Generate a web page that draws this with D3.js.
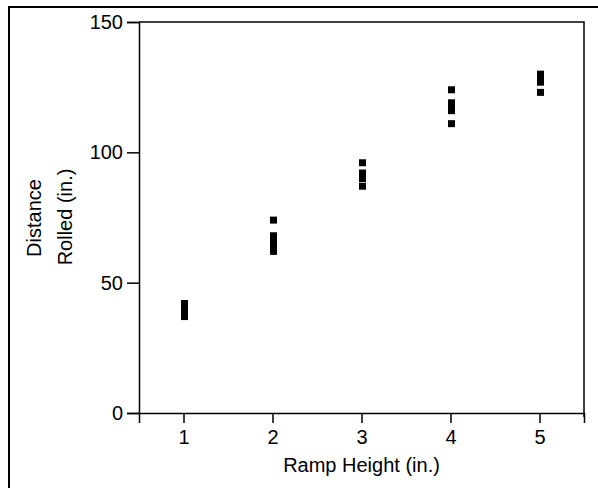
<!DOCTYPE html>
<html>
<head>
<meta charset="utf-8">
<script src="https://cdn.jsdelivr.net/npm/d3@7"></script>
<style>
  body { margin: 0; background: #fff; }
  text { font-family: "Liberation Sans", Arial, sans-serif; }
</style>
</head>
<body>
<script>
// ramp height (in.) and distance rolled (in.)
var heights = [1, 2, 3, 4, 5];
var trial1 = [37, 62, 87, 111, 123];
var trial2 = [38, 63, 90, 116, 127];
var trial3 = [39, 65, 92, 117, 128];
var trial4 = [41, 66, 96, 119, 130];
var trial5 = [42, 68, 90, 124, 127];
var trial6 = [40, 74, 92, 117, 129];

var xTicks = [1, 2, 3, 4, 5];
var yTicks = [0, 50, 100, 150];

var width = 598, height = 488;
var margin = { left: 139, right: 14, top: 22, bottom: 75 };

var svg = d3.select("body").append("svg")
    .attr("width", width)
    .attr("height", height);

// outer frame
svg.append("rect")
    .attr("x", 9).attr("y", 7)
    .attr("width", 700).attr("height", 600)
    .attr("fill", "none")
    .attr("stroke", "#000")
    .attr("stroke-width", 2);

var x = d3.scaleLinear().domain([0.5, 5.5]).range([margin.left, width - margin.right]);
var y = d3.scaleLinear().domain([0, 150]).range([height - margin.bottom, margin.top]);

// box top / right
svg.append("path")
    .attr("d", "M" + x(0.5) + "," + y(150) + "H" + x(5.5) + "V" + (y(0) + 4))
    .attr("fill", "none")
    .attr("stroke", "#000")
    .attr("stroke-width", 1.5);

// x axis
var gx = svg.append("g").attr("transform", "translate(0," + y(0) + ")");
gx.call(d3.axisBottom(x).tickValues(d3.range(1.5, 5.5, 1)).tickSize(4).tickFormat(""));
gx.call(d3.axisBottom(x).tickValues(xTicks).tickSize(10).tickPadding(7).tickFormat(d3.format("d")));

// y axis
var gy = svg.append("g").attr("transform", "translate(" + x(0.5) + ",0)");
gy.call(d3.axisLeft(y).tickValues(d3.range(10, 150, 10).filter(function (v) { return v % 50; })).tickSize(6).tickFormat(""));
gy.call(d3.axisLeft(y).tickValues(yTicks).tickSize(12).tickPadding(4).tickFormat(d3.format("d")));

svg.selectAll(".domain").attr("stroke-width", 1.5);
svg.selectAll(".tick line").attr("stroke-width", 1.5);
svg.selectAll(".tick text").attr("font-size", 20).attr("fill", "#000")
    .attr("font-family", "'Liberation Sans', Arial, sans-serif");

// labels
svg.append("text")
    .attr("x", (x(0.5) + x(5.5)) / 2)
    .attr("y", 472)
    .attr("text-anchor", "middle")
    .attr("font-size", 20)
    .text("Ramp Height (in.)");

svg.append("text")
    .attr("transform", "translate(41,218) rotate(-90)")
    .attr("text-anchor", "middle")
    .attr("font-size", 20)
    .text("Distance");

svg.append("text")
    .attr("transform", "translate(72,217) rotate(-90)")
    .attr("text-anchor", "middle")
    .attr("font-size", 20)
    .text("Rolled (in.)");

// points
var pts = [];
[trial1, trial2, trial3, trial4, trial5, trial6].forEach(function (t) {
    t.forEach(function (v, i) { pts.push({ h: heights[i], d: v }); });
});

var s = 7;
svg.append("g").selectAll("rect")
    .data(pts)
    .enter().append("rect")
    .attr("x", function (d) { return x(d.h) - s / 2 + 1; })
    .attr("y", function (d) { return y(d.d) - s / 2; })
    .attr("width", s)
    .attr("height", s)
    .attr("fill", "#000");
</script>
</body>
</html>
